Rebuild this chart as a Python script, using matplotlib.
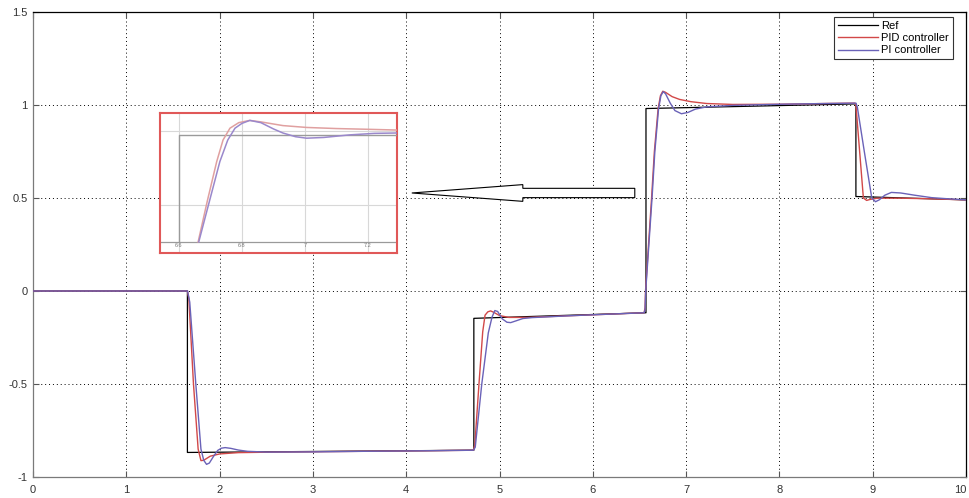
import matplotlib
matplotlib.use("Agg")
import matplotlib.pyplot as plt
from matplotlib.patches import FancyArrow

plt.rcParams['font.family'] = ['Liberation Sans', 'DejaVu Sans']

# ---------------- data ----------------
ref_t = [0, 1.655, 1.655, 4.725, 4.725, 6.57, 6.57, 8.82, 8.82, 10]
ref_y = [0, 0, -0.868, -0.856, -0.147, -0.117, 0.981, 1.006, 0.508, 0.49]

pid_t = [0, 1.655, 1.67, 1.72, 1.77, 1.80, 1.83, 1.90, 2.00, 2.20, 2.60, 3.50, 4.20, 4.72,
         4.735, 4.78, 4.82, 4.845, 4.875, 4.905, 4.94, 5.00, 5.10, 5.30, 5.80, 6.30, 6.55,
         6.56, 6.565, 6.63, 6.66, 6.70, 6.725, 6.75, 6.78, 6.85, 6.93, 7.05, 7.22, 7.50, 8.00, 8.50, 8.81,
         8.82, 8.86, 8.90, 8.935, 8.97, 9.05, 9.30, 9.60, 10.0]
pid_y = [0, 0, -0.04, -0.50, -0.85, -0.912, -0.91, -0.888, -0.876, -0.869, -0.866, -0.862, -0.859, -0.856,
         -0.83, -0.50, -0.22, -0.13, -0.112, -0.107, -0.115, -0.132, -0.142, -0.142, -0.132, -0.122, -0.117,
         -0.09, 0.0, 0.50, 0.75, 0.98, 1.05, 1.074, 1.068, 1.045, 1.03, 1.018, 1.008, 1.003, 1.004, 1.008, 1.01,
         1.0, 0.75, 0.50, 0.487, 0.492, 0.499, 0.499, 0.496, 0.49]

pi_t = [0, 1.657, 1.68, 1.745, 1.80, 1.83, 1.86, 1.89, 1.93, 1.98, 2.02, 2.06, 2.12, 2.20, 2.30, 2.50, 3.00, 3.50, 4.20, 4.72,
        4.74, 4.81, 4.88, 4.92, 4.95, 4.98, 5.03, 5.08, 5.12, 5.18, 5.25, 5.35, 5.80, 6.30, 6.55,
        6.56, 6.567, 6.635, 6.665, 6.705, 6.73, 6.755, 6.78, 6.83, 6.88, 6.95, 7.02, 7.10, 7.22, 7.50, 8.00, 8.50, 8.82,
        8.835, 8.91, 8.99, 9.03, 9.07, 9.13, 9.20, 9.30, 9.45, 9.63, 9.80, 10.0]
pi_y = [0, 0, -0.06, -0.50, -0.85, -0.91, -0.932, -0.925, -0.893, -0.857, -0.845, -0.842, -0.846, -0.855, -0.862, -0.866, -0.865, -0.862, -0.859, -0.856,
        -0.84, -0.50, -0.225, -0.14, -0.105, -0.11, -0.15, -0.168, -0.17, -0.16, -0.148, -0.143, -0.132, -0.122, -0.117,
        -0.10, 0.0, 0.50, 0.75, 0.98, 1.05, 1.072, 1.06, 1.01, 0.97, 0.953, 0.96, 0.978, 0.99, 0.998, 1.004, 1.008, 1.01,
        0.99, 0.75, 0.50, 0.48, 0.49, 0.515, 0.53, 0.527, 0.515, 0.502, 0.496, 0.49]

# inset (zoomed view) data
ins_ref_t = [6.6, 6.6, 7.3]
ins_ref_y = [0.70, 0.989, 0.989]
ins_pid_t = [6.661, 6.69, 6.72, 6.74, 6.762, 6.79, 6.825, 6.86, 6.93, 7.005, 7.10, 7.20, 7.29]
ins_pid_y = [0.70, 0.81, 0.917, 0.975, 1.007, 1.022, 1.028, 1.024, 1.014, 1.009, 1.006, 1.004, 1.002]
ins_pi_t = [6.663, 6.70, 6.73, 6.755, 6.778, 6.80, 6.825, 6.86, 6.90, 6.93, 6.97, 7.005, 7.06, 7.143, 7.22, 7.29]
ins_pi_y = [0.70, 0.82, 0.917, 0.975, 1.007, 1.02, 1.028, 1.022, 1.005, 0.994, 0.984, 0.980, 0.982, 0.989, 0.993, 0.994]

x_ticks = [0, 1, 2, 3, 4, 5, 6, 7, 8, 9, 10]
y_ticks = [-1, -0.5, 0, 0.5, 1, 1.5]
ins_x_ticks = [6.6, 6.8, 7.0, 7.2]
ins_x_labels = ['6.6', '6.8', '7', '7.2']
ins_y_grid = [0.8, 1.0]
series_names = ['Ref', 'PID controller', 'PI controller']

# arrow annotation (data coords)
arrow_tail_x, arrow_y, arrow_tip_x = 6.45, 0.527, 4.06

# ---------------- styling ----------------
C_REF = '#000000'
C_PID = '#d24848'
C_PI = '#6a62b8'

W, H = 969, 498
fig = plt.figure(figsize=(W / 100, H / 100), dpi=100)
ax = fig.add_axes([33 / W, (H - 477) / H, (966 - 33) / W, (477 - 12) / H])

ax.plot(ref_t, ref_y, color=C_REF, lw=0.9, label=series_names[0], zorder=3)
ax.plot(pid_t, pid_y, color=C_PID, lw=1.0, label=series_names[1], zorder=4)
ax.plot(pi_t, pi_y, color=C_PI, lw=1.0, label=series_names[2], zorder=5)

ax.set_xlim(0, 10)
ax.set_ylim(-1, 1.5)
ax.set_xticks(x_ticks)
ax.set_yticks(y_ticks)
ax.set_xticklabels([f'{v:g}' for v in x_ticks])
ax.set_yticklabels([f'{v:g}' for v in y_ticks])
ax.grid(True, color='black', linestyle=(0, (1, 3)), linewidth=0.7)
ax.tick_params(direction='in', length=4, top=True, right=True, labelsize=8,
               labelcolor='#333333', color='#555555')
ax.tick_params(axis='x', pad=6)
ax.tick_params(axis='y', pad=4)
xl = ax.get_xticklabels()
xl[-1].set_horizontalalignment('right')
xl[-1].set_x(10)
for side in ['left', 'bottom']:
    ax.spines[side].set_color('#7a7a7a')
for side in ['top', 'right']:
    ax.spines[side].set_color('black')
for s in ax.spines.values():
    s.set_linewidth(0.9)

leg = ax.legend(loc='upper right', bbox_to_anchor=(0.986, 0.989), fontsize=8,
                fancybox=False, framealpha=1, edgecolor='#333333', borderaxespad=0,
                handlelength=3.6, handletextpad=0.3, borderpad=0.35, labelspacing=0.2)
leg.get_frame().set_linewidth(0.8)

arr = FancyArrow(arrow_tail_x, arrow_y, arrow_tip_x - arrow_tail_x, 0,
                 width=0.05, head_width=0.09, head_length=1.19,
                 length_includes_head=True, facecolor='white', edgecolor='black',
                 linewidth=0.8, zorder=6)
ax.add_patch(arr)

# ---------------- inset ----------------
axi = fig.add_axes([160 / W, (H - 253) / H, (397 - 160) / W, (253 - 113) / H], zorder=10)
axi.set_facecolor('white')
axi.set_xlim(6.54, 7.292)
axi.set_ylim(0.67, 1.048)
axi.set_xticks(ins_x_ticks)
axi.set_xticklabels(ins_x_labels)
axi.set_yticks(ins_y_grid)
axi.set_yticklabels([])
axi.grid(True, color='#d8d8d8', linestyle='-', linewidth=0.8)
axi.tick_params(axis='x', length=0, pad=-7.5, labelsize=4, labelcolor='#777777')
axi.tick_params(axis='y', length=0)
axi.axhline(0.70, color='#9a9a9a', lw=0.9, zorder=2)
axi.plot(ins_ref_t, ins_ref_y, color='#9a9a9a', lw=1.0, zorder=3)
axi.plot(ins_pid_t, ins_pid_y, color='#e0a0a0', lw=1.1, zorder=4)
axi.plot(ins_pi_t, ins_pi_y, color='#9a88cc', lw=1.1, zorder=5)
for s in axi.spines.values():
    s.set_color('#e05858')
    s.set_linewidth(1.5)

fig.savefig('out.png', dpi=100)
